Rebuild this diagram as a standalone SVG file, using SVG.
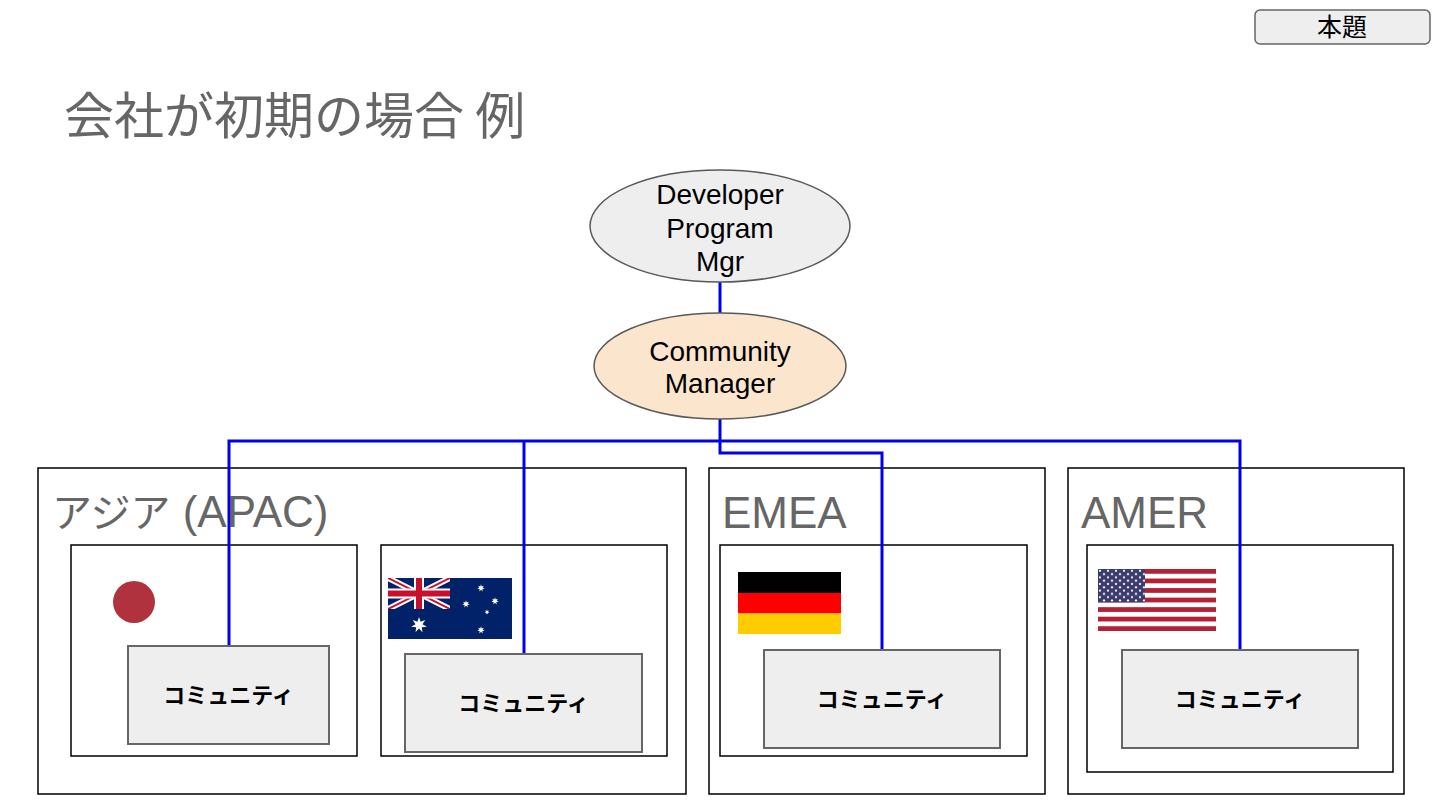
<svg xmlns="http://www.w3.org/2000/svg" width="1440" height="810" viewBox="0 0 1440 810">
<style>
.title{font-family:"Noto Sans CJK JP","Noto Sans",sans-serif;font-size:50px;fill:#666666}
.region{font-family:"Liberation Sans","Noto Sans CJK JP",sans-serif;font-size:44px;fill:#666666}
.regionjp{font-family:"Noto Sans CJK JP",sans-serif;font-size:40px}
.outer{fill:#ffffff;stroke:#000000;stroke-width:1.5}
.inner{fill:#ffffff;stroke:#000000;stroke-width:1.5}
.comm{fill:#eeeeee;stroke:#666666;stroke-width:2}
.commtxt{font-family:"Noto Sans CJK JP",sans-serif;font-size:22px;font-weight:bold;fill:#000000;text-anchor:middle}
.ell{font-family:"Liberation Sans",Arial,sans-serif;font-size:28px;fill:#000000;text-anchor:middle}
.conn{fill:none;stroke:#0000ee;stroke-width:3}
.star{fill:#ffffff}
</style>
<defs>
<polygon id="star7" points="0,-10 1.953,-4.055 7.818,-6.235 4.387,-1.001 9.749,2.225 3.518,2.806 4.339,9.01 0,4.5 -4.339,9.01 -3.518,2.806 -9.749,2.225 -4.387,-1.001 -7.818,-6.235 -1.953,-4.055"/>
<clipPath id="ujclip"><rect x="388" y="578" width="62" height="31"/></clipPath>
<pattern id="usstars" x="1098" y="569" width="8" height="6.6" patternUnits="userSpaceOnUse">
<circle cx="2" cy="1.7" r="1.1" fill="#ffffff"/>
<circle cx="6" cy="5" r="1.1" fill="#ffffff"/>
</pattern>
</defs>
<rect x="0" y="0" width="1440" height="810" fill="#ffffff"/>

<g id="button-hondai">
<rect x="1255" y="10" width="175" height="34" rx="5" fill="#eeeeee" stroke="#666666" stroke-width="1.5"/>
<text x="1342" y="36" font-family="Noto Sans CJK JP,sans-serif" font-size="25" text-anchor="middle" fill="#000000">本題</text>
</g>

<g id="title">
<text class="title" x="64" y="134">会社が初期の場合 例</text>
</g>

<g id="region-apac">
<rect class="outer" x="38" y="468" width="648" height="326"/>
<text class="region" x="52" y="527"><tspan class="regionjp">アジア</tspan> (APAC)</text>
</g>
<g id="region-emea">
<rect class="outer" x="709" y="468" width="336" height="326"/>
<text class="region" x="722" y="528">EMEA</text>
</g>
<g id="region-amer">
<rect class="outer" x="1068" y="468" width="336" height="326"/>
<text class="region" x="1081" y="528">AMER</text>
</g>

<g id="country-japan">
<rect class="inner" x="71" y="545" width="286" height="211"/>
<circle cx="134" cy="602" r="21" fill="#b0323f"/>
</g>
<g id="country-australia">
<rect class="inner" x="381" y="545" width="286" height="211"/>
<rect x="388" y="578" width="124" height="61" fill="#012169"/>
<g clip-path="url(#ujclip)">
<path d="M388,578 L450,609 M450,578 L388,609" stroke="#ffffff" stroke-width="6"/>
<path d="M388,578 L450,609 M450,578 L388,609" stroke="#c8102e" stroke-width="2"/>
<path d="M419,578 V609 M388,593.5 H450" stroke="#ffffff" stroke-width="10"/>
<path d="M419,578 V609 M388,593.5 H450" stroke="#c8102e" stroke-width="6"/>
</g>
<use href="#star7" class="star" transform="translate(419,625) scale(0.8)"/>
<use href="#star7" class="star" transform="translate(481,588) scale(0.38)"/>
<use href="#star7" class="star" transform="translate(466,604) scale(0.38)"/>
<use href="#star7" class="star" transform="translate(495,601) scale(0.38)"/>
<use href="#star7" class="star" transform="translate(487,612) scale(0.25)"/>
<use href="#star7" class="star" transform="translate(481,630) scale(0.38)"/>
</g>
<g id="country-germany">
<rect class="inner" x="720" y="545" width="307" height="211"/>
<rect x="738" y="572" width="103" height="21" fill="#000000"/>
<rect x="738" y="593" width="103" height="20.5" fill="#ff0000"/>
<rect x="738" y="613.5" width="103" height="20.5" fill="#ffcc00"/>
</g>
<g id="country-usa">
<rect class="inner" x="1087" y="545" width="306" height="227"/>
<rect x="1098" y="569" width="118" height="62" fill="#ffffff"/>
<g fill="#b22234">
<rect x="1098" y="569" width="118" height="4.77"/>
<rect x="1098" y="578.54" width="118" height="4.77"/>
<rect x="1098" y="588.08" width="118" height="4.77"/>
<rect x="1098" y="597.62" width="118" height="4.77"/>
<rect x="1098" y="607.16" width="118" height="4.77"/>
<rect x="1098" y="616.7" width="118" height="4.77"/>
<rect x="1098" y="626.23" width="118" height="4.77"/>
</g>
<rect x="1098" y="569" width="47" height="33.4" fill="#3c3b6e"/>
<rect x="1098" y="569" width="47" height="33.4" fill="url(#usstars)"/>
</g>

<g id="connectors">
<path class="conn" d="M720,282 V313"/>
<path class="conn" d="M720,418 V453 H882 V650"/>
<path class="conn" d="M229,646 V441 H1240 V650"/>
<path class="conn" d="M524,441 V654"/>
</g>

<g id="node-dpm">
<ellipse cx="720" cy="226" rx="130" ry="56" fill="#eeeeee" stroke="#595959" stroke-width="1.5"/>
<text class="ell" x="720" y="204">Developer</text>
<text class="ell" x="720" y="238">Program</text>
<text class="ell" x="720" y="271">Mgr</text>
</g>
<g id="node-cm">
<ellipse cx="720" cy="366" rx="126" ry="53" fill="#fce5cd" stroke="#595959" stroke-width="1.5"/>
<text class="ell" x="720" y="361">Community</text>
<text class="ell" x="720" y="393">Manager</text>
</g>

<g id="community-japan">
<rect class="comm" x="128" y="646" width="201" height="98"/>
<text class="commtxt" x="228.5" y="703">コミュニティ</text>
</g>
<g id="community-australia">
<rect class="comm" x="405" y="654" width="237" height="98"/>
<text class="commtxt" x="523.5" y="711">コミュニティ</text>
</g>
<g id="community-germany">
<rect class="comm" x="764" y="650" width="236" height="98"/>
<text class="commtxt" x="882" y="707">コミュニティ</text>
</g>
<g id="community-usa">
<rect class="comm" x="1122" y="650" width="236" height="98"/>
<text class="commtxt" x="1240" y="707">コミュニティ</text>
</g>
</svg>
